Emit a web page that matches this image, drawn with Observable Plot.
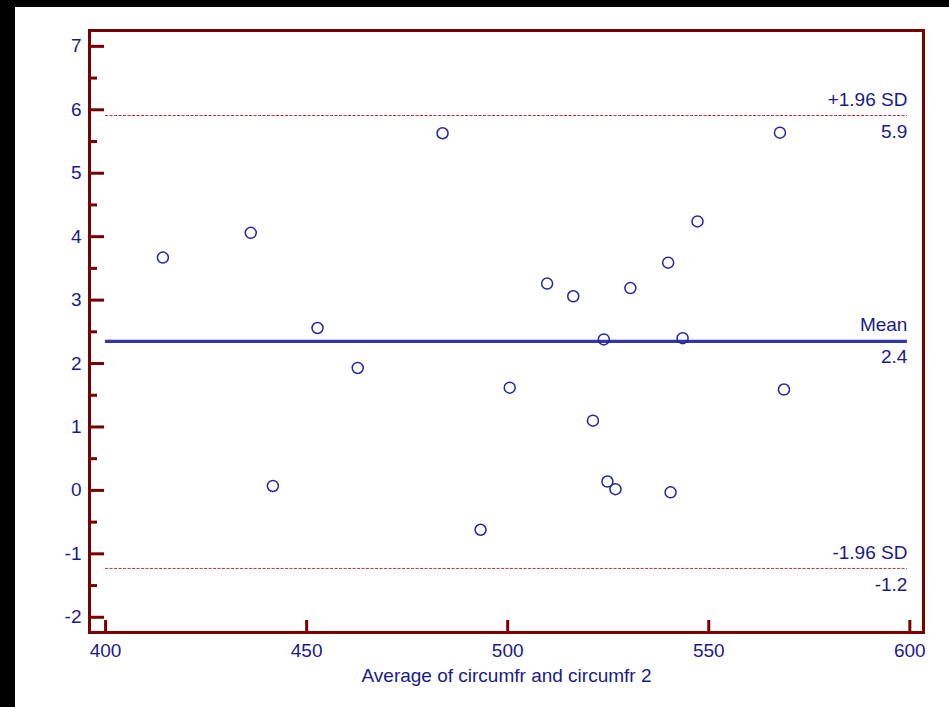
<!DOCTYPE html>
<html><head><meta charset="utf-8">
<script src="https://cdn.jsdelivr.net/npm/d3@7"></script>
<script src="https://cdn.jsdelivr.net/npm/@observablehq/plot@0.6"></script>
<style>
html,body{margin:0;padding:0;background:#fff;overflow:hidden;}
::-webkit-scrollbar{display:none;width:0;height:0;}
#bandTop{position:fixed;left:0;top:0;width:100vw;height:7px;background:#000;}
#bandLeft{position:fixed;left:0;top:0;width:15px;height:100vh;background:#000;}
#wrap{position:fixed;left:15px;top:7px;width:934px;height:700px;background:#fff;}
</style></head><body><div id="bandTop"></div><div id="bandLeft"></div><div id="wrap"></div>
<script>
// Bland-Altman data
const avg  = [414.25, 436.1, 441.6, 452.7, 462.7, 483.8, 493.25, 500.5, 509.8, 516.3, 521.2, 523.9, 524.8, 526.8, 530.5, 539.9, 540.5, 543.5, 547.2, 567.7, 568.7];
const diff = [3.67, 4.06, 0.07, 2.56, 1.93, 5.63, -0.62, 1.62, 3.26, 3.06, 1.10, 2.38, 0.14, 0.02, 3.19, 3.59, -0.03, 2.40, 4.24, 5.64, 1.59];

const meanDiff = 2.35;
const upperLoA = 5.91;
const lowerLoA = -1.23;
const refSpan = [400, 599.4];
const upperLabels = ["+1.96 SD", "5.9"];
const meanLabels = ["Mean", "2.4"];
const lowerLabels = ["-1.96 SD", "-1.2"];

const xTicks = [400, 450, 500, 550, 600];
const yTicks = [-2, -1, 0, 1, 2, 3, 4, 5, 6, 7];
const yMinor = [-1.5, -0.5, 0.5, 1.5, 2.5, 3.5, 4.5, 5.5, 6.5];
const xTitle = "Average of circumfr and circumfr 2";

const points = avg.map((a, i) => ({a, d: diff[i]}));

const frameCol = "#780000";
const textCol = "#1a1a8a";
const sdCol = "#b83030";
const fs = 19;

function refLabels(val, labels) {
  return [
    Plot.text([labels[0]], {x: refSpan[1], y: val, text: d => d, textAnchor: "end", dy: -16, fill: textCol, fontSize: fs}),
    Plot.text([labels[1]], {x: refSpan[1], y: val, text: d => d, textAnchor: "end", dy: 16, fill: textCol, fontSize: fs})
  ];
}

const chart = Plot.plot({
  width: 934,
  height: 700,
  marginLeft: 74,
  marginRight: 26,
  marginTop: 23,
  marginBottom: 75,
  style: {background: "#fff", color: textCol, fontFamily: "Arial, 'Liberation Sans', sans-serif", fontSize: fs + "px"},
  x: {domain: [396, 603.4], label: null},
  y: {domain: [-2.24, 7.25], label: null},
  marks: [
    // reference lines
    Plot.ruleY([upperLoA], {x1: refSpan[0], x2: refSpan[1], stroke: sdCol, strokeWidth: 1, strokeDasharray: "3,1.5"}),
    Plot.ruleY([lowerLoA], {x1: refSpan[0], x2: refSpan[1], stroke: sdCol, strokeWidth: 1, strokeDasharray: "3,1.5"}),
    Plot.ruleY([meanDiff], {x1: refSpan[0], x2: refSpan[1], stroke: "#3535a8", strokeWidth: 3.2}),
    ...refLabels(upperLoA, upperLabels),
    ...refLabels(meanDiff, meanLabels),
    ...refLabels(lowerLoA, lowerLabels),
    // points
    Plot.dot(points, {x: "a", y: "d", r: 5.5, stroke: "#2424a0", strokeWidth: 1.5, fill: "none"}),
    // inward ticks
    Plot.axisX(xTicks, {tickSize: 12, dy: -12, tickFormat: () => "", stroke: frameCol, strokeWidth: 3, label: null}),
    Plot.axisY(yTicks, {tickSize: 15, dx: 15, tickFormat: () => "", stroke: frameCol, strokeWidth: 3, label: null}),
    Plot.axisY(yMinor, {tickSize: 8, dx: 8, tickFormat: () => "", stroke: frameCol, strokeWidth: 3, label: null}),
    // tick labels
    Plot.axisX(xTicks, {tickSize: 0, tickPadding: 11, tickFormat: d => String(d), fontSize: fs, fill: textCol, label: null}),
    Plot.axisY(yTicks, {tickSize: 0, tickPadding: 8, tickFormat: d => String(d), fontSize: fs, fill: textCol, label: null}),
    // axis title
    Plot.text([xTitle], {frameAnchor: "bottom", text: d => d, dy: 49, fill: textCol, fontSize: fs}),
    Plot.frame({stroke: frameCol, strokeWidth: 3})
  ]
});
document.getElementById("wrap").appendChild(chart);
</script>
</body></html>
